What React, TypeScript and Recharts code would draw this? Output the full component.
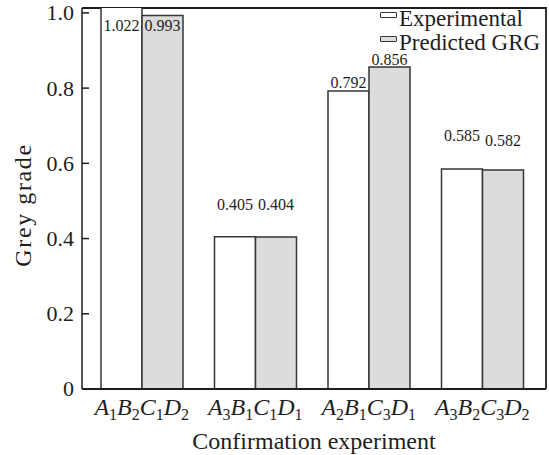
import React from "react";
import { Bar, BarChart, LabelList, Label, XAxis, YAxis, usePlotArea } from "recharts";

const combos = ["A1B2C1D2", "A3B1C1D1", "A2B1C3D1", "A3B2C3D2"];
const experimental = [1.022, 0.405, 0.792, 0.585];
const predicted = [0.993, 0.404, 0.856, 0.582];
const yTicks = [0, 0.2, 0.4, 0.6, 0.8, 1.0];
const seriesNames = ["Experimental", "Predicted GRG"];

// label centre offsets from each bar's top (px), the original places them by hand
const expLabelDy = [21, -32, -9, -33];
const predLabelDy = [10, -32, -7, -30];

const SERIF = '"Liberation Serif", serif';
const INK = "#1e1e1e";
const EDGE = "#363636";
const FILLS = ["#ffffff", "#dddbdb"];

const rows = combos.map((c, i) => ({ combo: c, exp: experimental[i], pred: predicted[i] }));

function YTick(props: any) {
  const { y, payload } = props;
  return (
    <g>
      {payload.value > 0 && <line x1={82} x2={89} y1={y} y2={y} stroke={INK} strokeWidth={1.5} />}
      <text x={74} y={y} dy="0.34em" textAnchor="end" fontFamily={SERIF} fontSize={22} fill={INK}>
        {payload.value === 0 ? "0" : payload.value.toFixed(1)}
      </text>
    </g>
  );
}

function XTick(props: any) {
  const { x, y, payload } = props;
  const parts = String(payload.value).match(/[A-Z]\d/g) || [];
  const spans: React.ReactNode[] = [];
  parts.forEach((p, i) => {
    spans.push(
      <tspan key={"l" + i} fontStyle="italic" dy={i === 0 ? 0 : -5}>
        {p[0]}
      </tspan>
    );
    spans.push(
      <tspan key={"s" + i} fontSize={16} dy={5}>
        {p[1]}
      </tspan>
    );
  });
  return (
    <text x={x} y={y + 18} textAnchor="middle" fontFamily={SERIF} fontSize={24} fill={INK}>
      {spans}
    </text>
  );
}

const valueLabel = (dys: number[]) => (props: any) => {
  const { x, y, width, value, index } = props;
  return (
    <text
      x={x + width / 2}
      y={y + dys[index]}
      dy="0.34em"
      textAnchor="middle"
      fontFamily={SERIF}
      fontSize={16}
      fill={INK}
    >
      {Number(value).toFixed(3)}
    </text>
  );
};

// top and right edges of the plot box
function Frame() {
  const pa = usePlotArea();
  if (!pa) return null;
  const r = pa.x + pa.width;
  return (
    <path
      d={`M${pa.x},${pa.y} H${r} V${pa.y + pa.height}`}
      fill="none"
      stroke={INK}
      strokeWidth={1.8}
    />
  );
}

function LegendBox() {
  return (
    <div
      style={{
        position: "absolute",
        left: 380,
        top: 7,
        fontFamily: SERIF,
        fontSize: 23,
        color: INK,
        lineHeight: "23.5px",
      }}
    >
      {seriesNames.map((name, i) => (
        <div key={name} style={{ position: "relative", height: 23.5, paddingLeft: 19, whiteSpace: "nowrap" }}>
          <span
            style={{
              position: "absolute",
              left: 0,
              top: 5,
              width: 15,
              height: 4,
              background: FILLS[i],
              border: `1.5px solid ${EDGE}`,
              borderRadius: 1,
            }}
          />
          {name}
        </div>
      ))}
    </div>
  );
}

export default function App() {
  return (
    <div style={{ position: "absolute", left: 0, top: 0, width: 549, height: 455, background: "#fff" }}>
      <BarChart
        width={549}
        height={455}
        data={rows}
        margin={{ top: 8, right: 3, bottom: 0, left: 0 }}
        barGap={0}
        barSize={41}
      >
        <XAxis
          dataKey="combo"
          height={66}
          padding={{ left: 3, right: 7 }}
          tickLine={false}
          tick={<XTick />}
          axisLine={{ stroke: INK, strokeWidth: 2 }}
          interval={0}
        >
          <Label
            value="Confirmation experiment"
            position="insideBottom"
            offset={6}
            style={{ fontFamily: SERIF, fontSize: 24, fill: INK }}
          />
        </XAxis>
        <YAxis
          width={82}
          domain={[0, 1.013]}
          allowDataOverflow
          ticks={yTicks}
          tickLine={false}
          tick={<YTick />}
          axisLine={{ stroke: INK, strokeWidth: 1.5 }}
        >
          <Label
            content={() => (
              <text
                x={31}
                y={205}
                transform="rotate(-90 31 205)"
                textAnchor="middle"
                fontFamily={SERIF}
                fontSize={24}
                letterSpacing={1.6}
                fill={INK}
              >
                Grey grade
              </text>
            )}
          />
        </YAxis>
        <Bar dataKey="exp" name={seriesNames[0]} fill={FILLS[0]} stroke={EDGE} strokeWidth={1.5} isAnimationActive={false}>
          <LabelList dataKey="exp" content={valueLabel(expLabelDy)} />
        </Bar>
        <Bar dataKey="pred" name={seriesNames[1]} fill={FILLS[1]} stroke={EDGE} strokeWidth={1.5} isAnimationActive={false}>
          <LabelList dataKey="pred" content={valueLabel(predLabelDy)} />
        </Bar>
        <Frame />
      </BarChart>
      <LegendBox />
    </div>
  );
}
